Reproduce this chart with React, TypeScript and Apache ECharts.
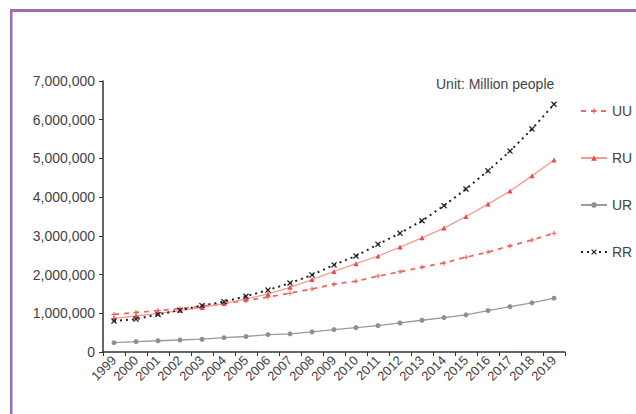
import React, { useEffect, useRef } from "react";
import * as echarts from "echarts";

const years = [
  "1999", "2000", "2001", "2002", "2003", "2004", "2005", "2006", "2007", "2008", "2009",
  "2010", "2011", "2012", "2013", "2014", "2015", "2016", "2017", "2018", "2019",
];

const uuValues = [
  970000, 1020000, 1070000, 1120000, 1180000, 1250000, 1330000, 1420000, 1520000, 1630000, 1750000,
  1830000, 1960000, 2070000, 2190000, 2300000, 2450000, 2580000, 2740000, 2890000, 3070000,
];

const ruValues = [
  870000, 930000, 1000000, 1070000, 1150000, 1250000, 1370000, 1500000, 1670000, 1870000, 2080000,
  2280000, 2480000, 2710000, 2950000, 3200000, 3500000, 3820000, 4160000, 4550000, 4960000,
];

const urValues = [
  240000, 270000, 290000, 310000, 330000, 370000, 400000, 450000, 470000, 520000, 580000,
  630000, 680000, 750000, 820000, 890000, 960000, 1070000, 1170000, 1270000, 1390000,
];

const rrValues = [
  800000, 850000, 970000, 1080000, 1200000, 1300000, 1440000, 1600000, 1780000, 1990000, 2250000,
  2480000, 2780000, 3070000, 3390000, 3780000, 4210000, 4680000, 5190000, 5760000, 6400000,
];

const yTicks = [0, 1000000, 2000000, 3000000, 4000000, 5000000, 6000000, 7000000];

const unitNote = "Unit: Million people";

const crossMarker =
  "path://M0,1.5L1.5,0L5,3.5L8.5,0L10,1.5L6.5,5L10,8.5L8.5,10L5,6.5L1.5,10L0,8.5L3.5,5Z";
const plusMarker = "path://M4,0L6,0L6,4L10,4L10,6L6,6L6,10L4,10L4,6L0,6L0,4L4,4Z";

export default function App() {
  const ref = useRef<HTMLDivElement>(null);

  useEffect(() => {
    document.body.style.margin = "0";
    const chart = echarts.init(ref.current!, null, { renderer: "svg" });
    const font = "Arial, 'Liberation Sans', sans-serif";
    chart.setOption({
      animation: false,
      backgroundColor: "#ffffff",
      textStyle: { fontFamily: font },
      grid: { left: 103, right: 71, top: 81, bottom: 62, containLabel: false },
      legend: {
        orient: "vertical",
        left: 575,
        top: 99,
        itemWidth: 26,
        itemHeight: 7,
        itemGap: 33,
        textStyle: { fontSize: 14, color: "#444", fontFamily: font },
        data: ["UU", "RU", "UR", "RR"],
      },
      graphic: [
        {
          type: "rect",
          shape: { x: 10, y: 9, width: 626, height: 3 },
          style: { fill: "#9b6fb8" },
        },
        {
          type: "rect",
          shape: { x: 10, y: 9, width: 2.5, height: 405 },
          style: { fill: "#9b6fb8" },
        },
        {
          type: "text",
          left: 436,
          top: 77,
          style: { text: unitNote, fontSize: 14, fill: "#444", fontFamily: font },
        },
      ],
      xAxis: {
        type: "category",
        data: years,
        boundaryGap: true,
        axisLine: { lineStyle: { color: "#333", width: 1.5 } },
        axisTick: { show: true, length: 4, interval: 0, lineStyle: { color: "#333" } },
        axisLabel: {
          interval: 0,
          rotate: 45,
          fontSize: 13,
          color: "#444",
          margin: 6,
        },
        splitLine: { show: false },
      },
      yAxis: {
        type: "value",
        min: 0,
        max: 7000000,
        interval: 1000000,
        axisLine: { show: true, lineStyle: { color: "#333", width: 1.5 } },
        axisTick: { show: true, length: 4, lineStyle: { color: "#333" } },
        axisLabel: {
          fontSize: 14,
          color: "#444",
          margin: 8,
          formatter: (v: number) =>
            yTicks.includes(v) ? v.toLocaleString("en-US") : "",
        },
        splitLine: { show: false },
      },
      series: [
        {
          name: "UU",
          type: "line",
          data: uuValues,
          symbol: plusMarker,
          symbolSize: 5,
          itemStyle: { color: "#ec5a55" },
          lineStyle: { color: "#ee6a65", width: 1.8, type: [5, 5] },
        },
        {
          name: "RU",
          type: "line",
          data: ruValues,
          symbol: "triangle",
          symbolSize: 5,
          itemStyle: { color: "#ea4a45" },
          lineStyle: { color: "#f39a94", width: 1.3, type: "solid" },
        },
        {
          name: "UR",
          type: "line",
          data: urValues,
          symbol: "circle",
          symbolSize: 5,
          itemStyle: { color: "#8f8f8f" },
          lineStyle: { color: "#9a9a9a", width: 1.3, type: "solid" },
        },
        {
          name: "RR",
          type: "line",
          data: rrValues,
          symbol: crossMarker,
          symbolSize: 6,
          itemStyle: { color: "#222" },
          lineStyle: { color: "#222", width: 2, type: [2, 4] },
        },
      ],
    });
    return () => chart.dispose();
  }, []);

  return (
    <div
      ref={ref}
      style={{ position: "absolute", left: 0, top: 0, width: 636, height: 414 }}
    />
  );
}
